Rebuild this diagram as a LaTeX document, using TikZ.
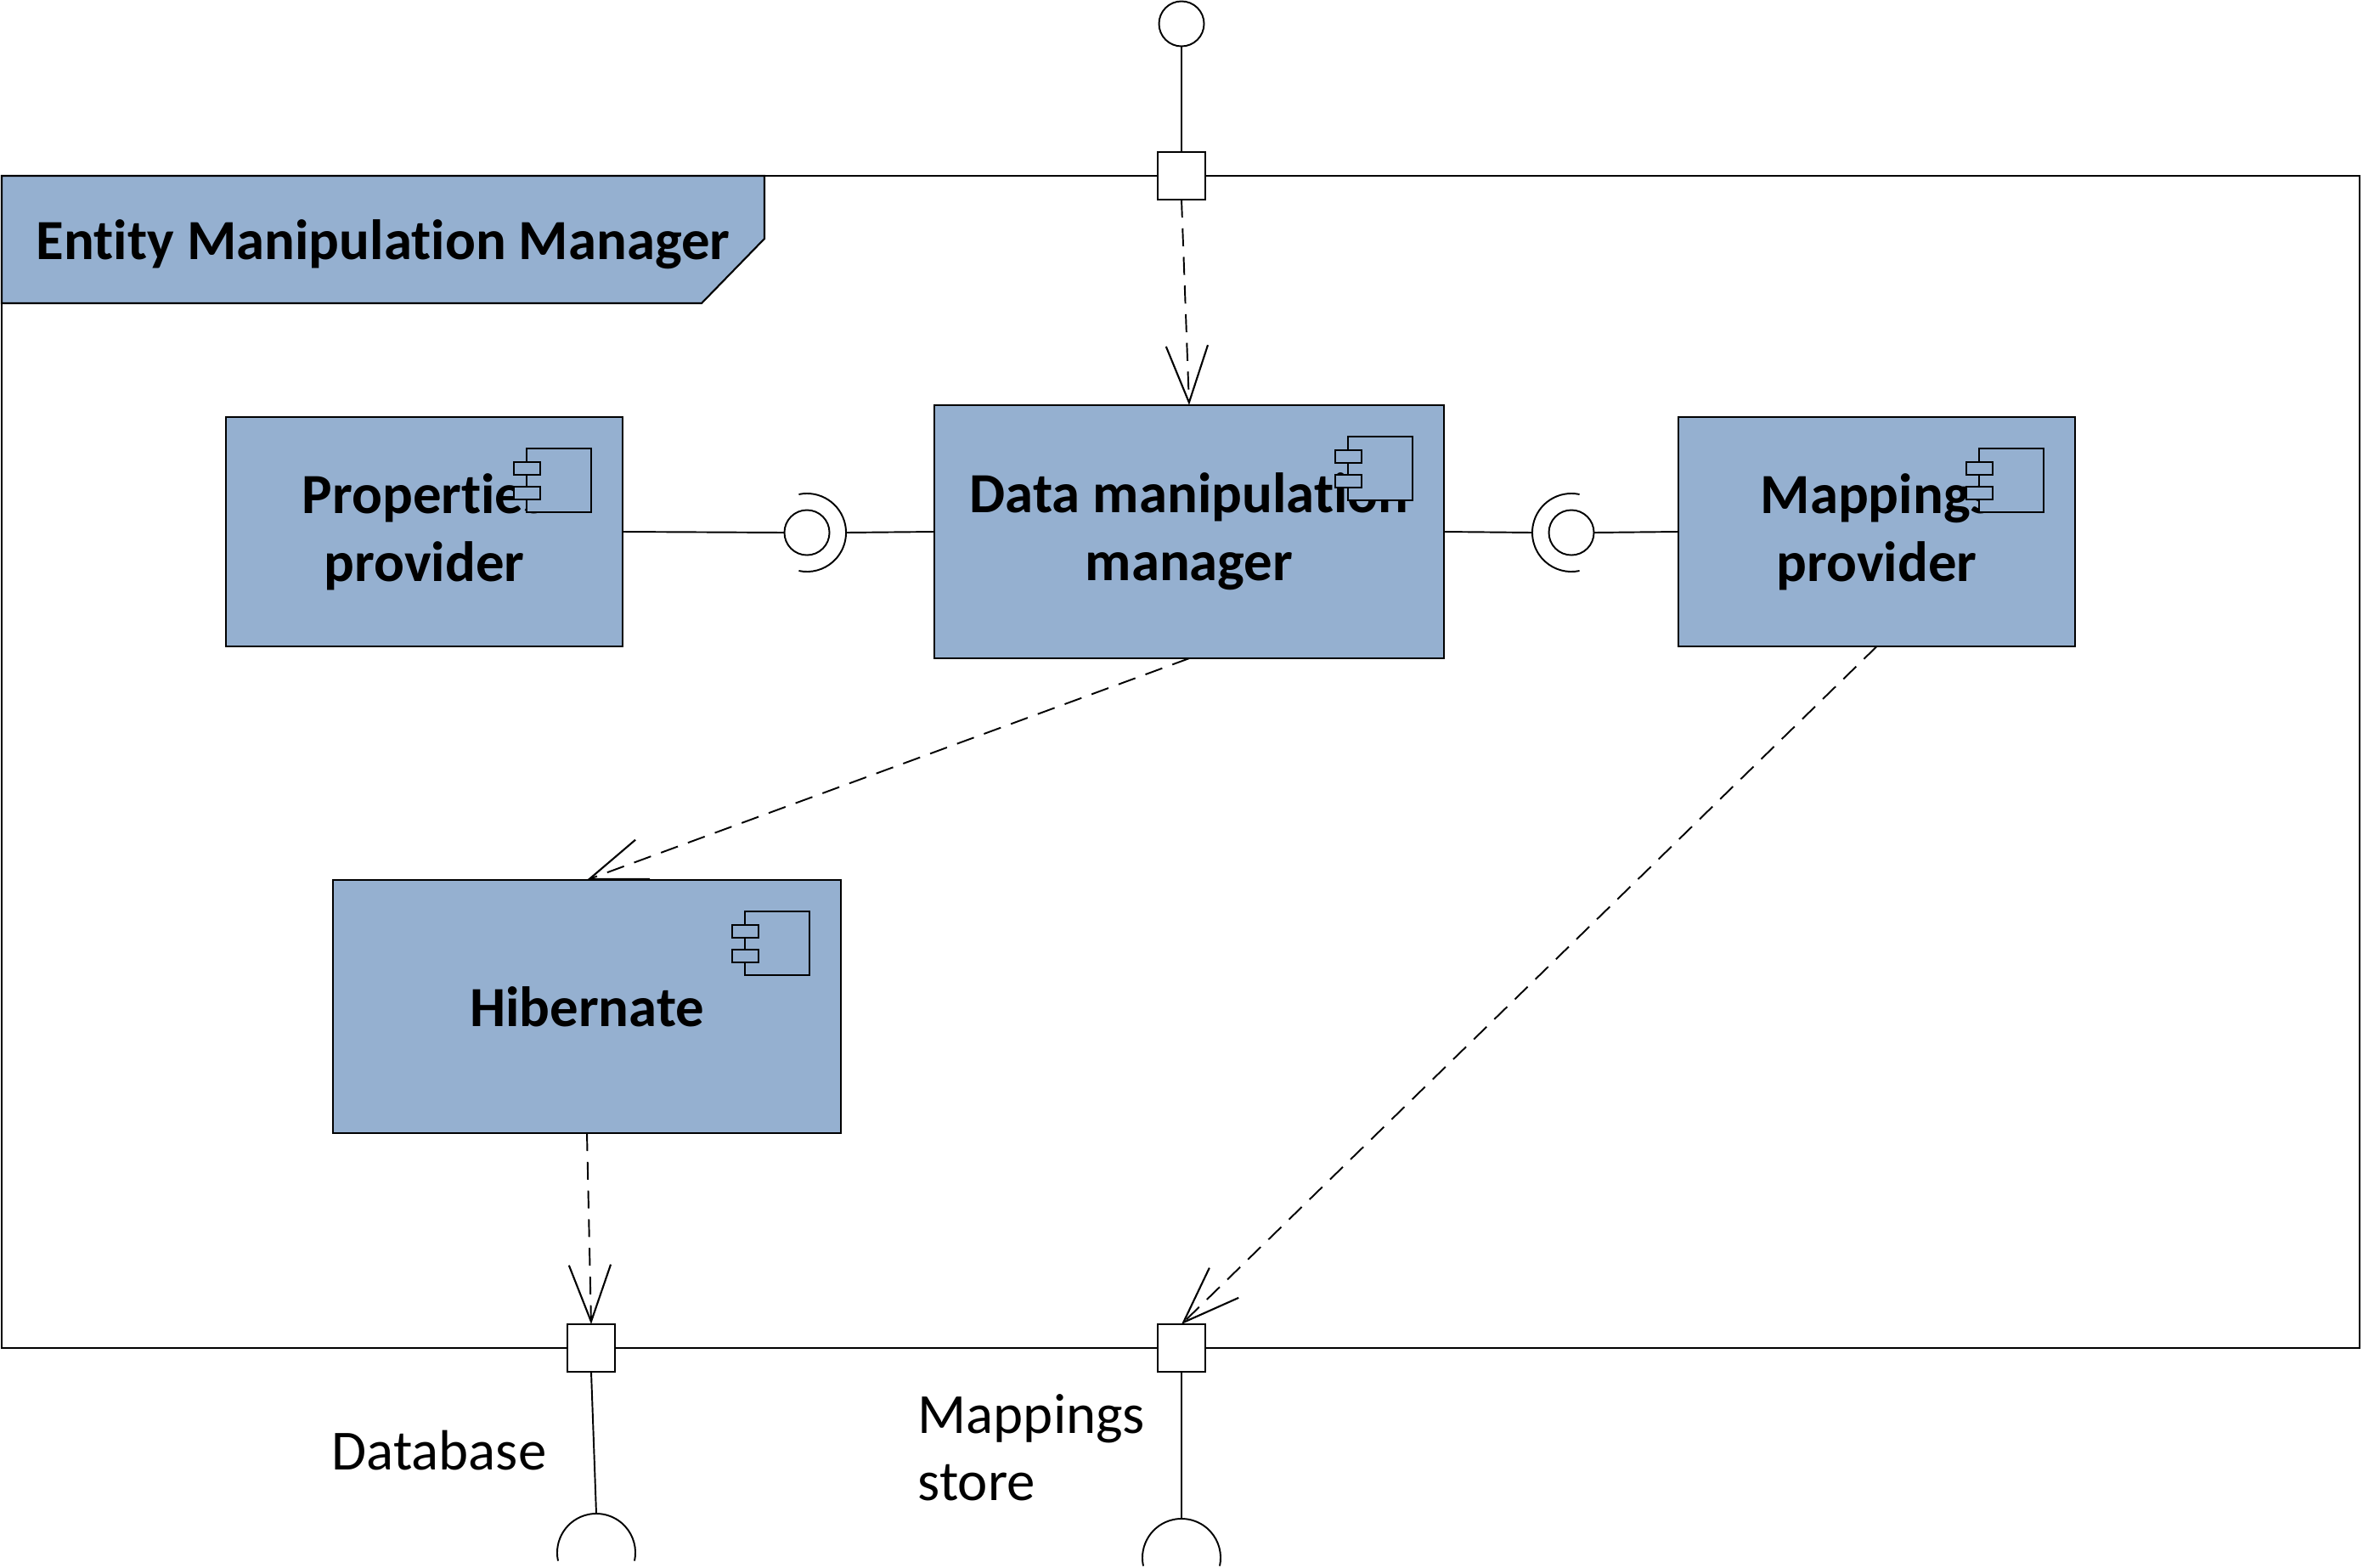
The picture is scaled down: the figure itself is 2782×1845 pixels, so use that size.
\documentclass[tikz,border=0pt]{standalone}
\usepackage{fontspec}
\setmainfont[Ligatures=NoCommon]{Carlito}
\usetikzlibrary{arrows.meta}
\definecolor{compblue}{RGB}{149,176,208}
\tikzset{
  comp/.style={draw, fill=compblue, line width=0.6pt, inner sep=0pt, outer sep=0pt,
    align=center, font=\fontsize{19}{22.8}\selectfont\bfseries},
  port/.style={draw, fill=white, line width=0.6pt, minimum size=0.56cm, inner sep=0pt, outer sep=0pt},
  ball/.style={draw, circle, line width=0.55pt, minimum size=0.53cm, inner sep=0pt, outer sep=0pt},
  dep/.style={line width=0.55pt, dash pattern=on 6pt off 3.6pt,
    -{Straight Barb[length=19pt, width=14pt, line width=0.6pt]}},
  wire/.style={line width=0.55pt},
  lbl/.style={font=\fontsize{19}{22.5}\selectfont, inner sep=0pt}
}
\newcommand{\compicon}[1]{%
  \begin{scope}[shift={(#1.north east)}, line width=0.55pt]
    \draw[fill=compblue] (-113,37) rectangle (-37,112);
    \draw[fill=compblue] (-128,53) rectangle (-97,68);
    \draw[fill=compblue] (-128,82) rectangle (-97,97);
  \end{scope}}
\begin{document}
\begin{tikzpicture}[x=0.01cm, y=-0.01cm]
  \useasboundingbox (0,0) rectangle (2782,1845);
  % frame and its title tab
  \draw[line width=0.6pt] (2,207) rectangle (2778,1587);
  \draw[line width=0.6pt, fill=compblue] (2,207) -- (900,207) -- (900,281) -- (826,357) -- (2,357) -- cycle;
  \node[anchor=base west, inner sep=0pt, font=\fontsize{19}{23}\selectfont\bfseries]
    (title) at (42,305) {Entity Manipulation Manager};

  % components
  \node[comp, minimum width=4.67cm, minimum height=2.70cm] (props) at (499.5,626) {Properties\\provider};
  \node[comp, minimum width=6.00cm, minimum height=2.98cm] (dmm) at (1400,626) {Data manipulation\\manager};
  \node[comp, minimum width=4.67cm, minimum height=2.70cm] (mapp) at (2209.5,626) {Mappings\\provider};
  \node[comp, minimum width=5.98cm, minimum height=2.98cm] (hib) at (691,1185) {Hibernate};
  \compicon{props}
  \compicon{dmm}
  \compicon{mapp}
  \compicon{hib}

  % ports
  \node[port] (topport) at (1391,207) {};
  \node[port] (dbport) at (696,1587) {};
  \node[port] (msport) at (1391,1587) {};

  % provided and required interfaces
  \node[ball] (balltop) at (1391,28) {};
  \node[ball] (ballL) at (950,627) {};
  \node[ball] (ballR) at (1850,627) {};
  \coordinate (sockL) at (996,627);
  \coordinate (sockR) at (1804,627);
  \coordinate (sockdb) at (702,1782);
  \coordinate (sockms) at (1391,1788);
  \begin{scope}[wire]
    \draw ([shift={(102:0.46cm)}]ballL.center) arc[start angle=102, end angle=-102, radius=0.46cm];
    \draw ([shift={(78:0.46cm)}]ballR.center) arc[start angle=78, end angle=282, radius=0.46cm];
    \draw ([shift={(192:0.46cm)}]sockdb) ++(0,46) arc[start angle=192, end angle=-12, radius=0.46cm];
    \draw ([shift={(192:0.46cm)}]sockms) ++(0,46) arc[start angle=192, end angle=-12, radius=0.46cm];
    \draw (props.east) -- (ballL.west);
    \draw (sockL) -- (dmm.west);
    \draw (dmm.east) -- (sockR);
    \draw (ballR.east) -- (mapp.west);
    \draw (balltop.south) -- (topport.north);
    \draw (dbport.south) -- (sockdb);
    \draw (msport.south) -- (sockms);
  \end{scope}

  % dependencies
  \draw[dep] (topport.south) -- (dmm.north);
  \draw[dep] (dmm.south) -- (hib.north);
  \draw[dep] (mapp.south) -- (msport.north);
  \draw[dep] (hib.south) -- (dbport.north);

  % labels
  \node[lbl, anchor=base west] (dblabel) at (390,1730) {Database};
  \node[lbl, anchor=north west, align=left] (mslabel) at (1080,1641) {Mappings\\store};
\end{tikzpicture}
\end{document}
